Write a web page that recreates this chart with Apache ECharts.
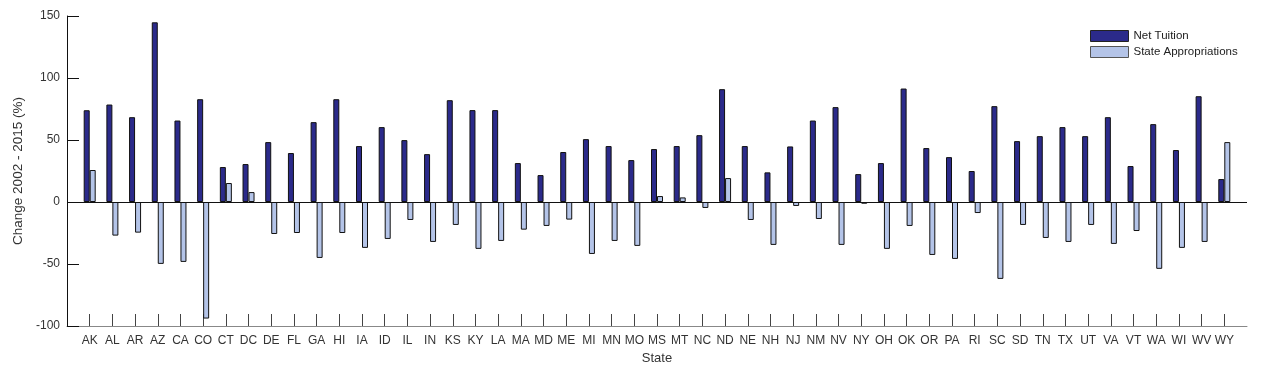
<!DOCTYPE html>
<html>
<head>
<meta charset="utf-8">
<script src="https://cdn.jsdelivr.net/npm/echarts@6/dist/echarts.min.js"></script>
<style>
html,body{margin:0;padding:0;background:#fff;}
#c{width:1269px;height:380px;}
</style>
</head>
<body>
<div id="c"></div>
<script>
const states = ['AK','AL','AR','AZ','CA','CO','CT','DC','DE','FL','GA','HI','IA','ID','IL','IN','KS','KY','LA','MA','MD','ME','MI','MN','MO','MS','MT','NC','ND','NE','NH','NJ','NM','NV','NY','OH','OK','OR','PA','RI','SC','SD','TN','TX','UT','VA','VT','WA','WI','WV','WY'];
const netTuition = [74,78.6,68.4,144.9,65.7,82.9,28.2,30.6,48.3,39.5,64.4,82.9,45.1,60.4,49.9,38.6,82.1,74.1,74.1,31.4,21.7,40.3,50.7,45.1,33.8,42.7,45.1,53.9,91,45.1,23.9,44.8,65.7,76.5,22.5,31.4,91.5,43.5,36.2,25,77.3,49.1,53.1,60.4,53.1,68.4,29,62.8,41.9,85.3,18.5];
const stateApprop = [25.8,-27.1,-24.7,-49.9,-48.3,-94,15.3,8,-25.8,-25,-45.1,-25,-37,-29.8,-14.5,-32.2,-18.5,-37.8,-31.4,-22.3,-19.3,-14.2,-41.9,-31.4,-35.4,4.8,3.7,-4.8,19.3,-14.5,-34.6,-3.2,-13.7,-34.6,-1.4,-37.8,-19.3,-42.7,-45.9,-8.9,-62,-18.5,-29,-32.2,-18.5,-33.8,-23.4,-53.9,-37,-32.2,48.3];
const yTicks = {min:-100, max:150, step:50};

const cats = [''].concat(states).concat(['']);
const pad = a => [null].concat(a).concat([null]);

const font = '"Liberation Sans", Arial, sans-serif';
const chart = echarts.init(document.getElementById('c'));
chart.setOption({
  animation:false,
  backgroundColor:'#fff',
  textStyle:{fontFamily:font},
  grid:{left:67,right:22,top:16,bottom:54,containLabel:false},
  legend:{
    orient:'vertical', left:1085, top:25, itemWidth:38, itemHeight:11, itemGap:4,
    textStyle:{fontSize:11.5,color:'#222',fontFamily:font},
    itemStyle:{borderWidth:1},
    data:[{name:'Net Tuition',icon:'rect',itemStyle:{borderColor:'#222',borderWidth:1}},
          {name:'State Appropriations',icon:'rect',itemStyle:{borderColor:'#555',borderWidth:1}}]
  },
  xAxis:{
    type:'category', data:cats, boundaryGap:false,
    name:'State', nameLocation:'middle', nameGap:26,
    nameTextStyle:{fontSize:13,color:'#333',fontFamily:font},
    axisLine:{onZero:false,lineStyle:{color:'#888',width:1}},
    axisTick:{inside:true,length:12,lineStyle:{color:'#444'},interval:(i,v)=>v!==''},
    axisLabel:{fontSize:12,color:'#333',margin:9,interval:0,fontFamily:font},
    splitLine:{show:false}
  },
  yAxis:{
    type:'value', min:yTicks.min, max:yTicks.max, interval:yTicks.step,
    name:'Change 2002 - 2015 (%)', nameLocation:'middle', nameGap:36,
    nameTextStyle:{fontSize:13.5,color:'#333',fontFamily:font},
    axisLine:{show:true,lineStyle:{color:'#111',width:1}},
    axisTick:{show:true,inside:true,length:12,lineStyle:{color:'#111'}},
    axisLabel:{fontSize:12,color:'#333',margin:7,fontFamily:font},
    splitLine:{show:false}
  },
  series:[
    {name:'Net Tuition',type:'bar',data:pad(netTuition),barWidth:6,barGap:'0%',
     itemStyle:{color:'#2B2A8A',borderColor:'#111',borderWidth:1},
     markLine:{silent:true,symbol:['none','none'],label:{show:false},
       lineStyle:{color:'#111',width:1,type:'solid'},data:[{yAxis:0}]}},
    {name:'State Appropriations',type:'bar',data:pad(stateApprop),barWidth:6,
     itemStyle:{color:'#B4C4E8',borderColor:'#111',borderWidth:1}}
  ]
});
</script>
</body>
</html>
